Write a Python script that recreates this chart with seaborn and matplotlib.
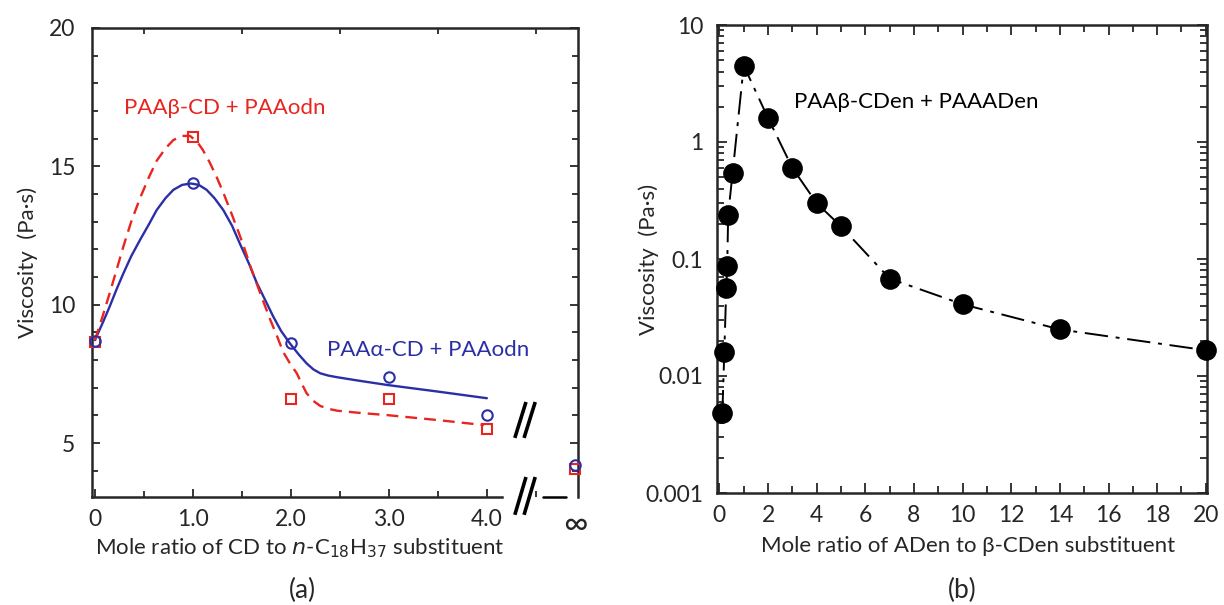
import numpy as np
import pandas as pd
import matplotlib
matplotlib.use('Agg')
import matplotlib.pyplot as plt
import seaborn as sns
from matplotlib.ticker import FixedLocator, FixedFormatter, NullFormatter

# DATA PANEL (a)
ratio_a = [0, 1.0, 2.0, 3.0, 4.0]
alpha_cd = [8.7, 14.4, 8.6, 7.4, 6.0]
beta_cd = [8.65, 16.05, 6.6, 6.6, 5.5]
inf_pos = 4.9            # position used for the "infinity" column
alpha_inf = 4.2
beta_inf = 4.05

# fitted curves
alpha_curve_x = [0, 0.08, 0.15, 0.22, 0.29, 0.37, 0.46, 0.55, 0.63, 0.72, 0.8, 0.89, 0.98, 1.06, 1.14, 1.22, 1.31,
                 1.4, 1.48, 1.57, 1.65, 1.74, 1.82, 1.9, 1.99, 2.08, 2.16, 2.23, 2.3, 2.38, 2.47, 2.7, 2.98, 3.5, 4.0]
alpha_curve_y = [8.72, 9.35, 9.93, 10.55, 11.13, 11.75, 12.34, 12.9, 13.42, 13.85, 14.15, 14.33, 14.38, 14.33, 14.15,
                 13.85, 13.42, 12.85, 12.2, 11.5, 10.8, 10.15, 9.57, 9.05, 8.6, 8.2, 7.88, 7.66, 7.52, 7.44, 7.38,
                 7.25, 7.1, 6.86, 6.62]
beta_curve_x = [0, 0.08, 0.15, 0.22, 0.29, 0.37, 0.46, 0.55, 0.63, 0.72, 0.8, 0.89, 0.97, 1.04, 1.1, 1.17, 1.24,
                1.31, 1.38, 1.45, 1.52, 1.58, 1.65, 1.72, 1.79, 1.86, 1.92, 1.99, 2.06, 2.11, 2.16, 2.23, 2.3, 2.38,
                2.47, 2.7, 2.98, 3.5, 3.97]
beta_curve_y = [8.72, 9.6, 10.41, 11.25, 12.1, 13.0, 13.85, 14.6, 15.2, 15.65, 15.95, 16.1, 16.1, 15.9, 15.6,
                15.15, 14.63, 14.05, 13.42, 12.77, 12.1, 11.45, 10.77, 10.1, 9.45, 8.85, 8.3, 7.88, 7.52, 7.15, 6.8,
                6.52, 6.34, 6.24, 6.17, 6.09, 6.01, 5.83, 5.65]

xticks_a = [0, 1.0, 2.0, 3.0, 4.0, inf_pos]
xticklabels_a = ['0', '1.0', '2.0', '3.0', '4.0', '∞']

# DATA PANEL (b)
ratio_b = [0.12, 0.2, 0.28, 0.32, 0.36, 0.54, 1.0, 2.0, 3.0, 4.0, 5.0, 7.0, 10.0, 14.0, 20.0]
visc_b = [0.0048, 0.016, 0.056, 0.087, 0.24, 0.54, 4.5, 1.6, 0.6, 0.3, 0.19, 0.068, 0.041, 0.025, 0.0166]
yticks_b = [0.001, 0.01, 0.1, 1, 10]
yticklabels_b = ['0.001', '0.01', '0.1', '1', '10']

sns.set_theme(style='ticks')
plt.rcParams['font.family'] = ['Lato', 'DejaVu Sans']

blue = '#2b2fa6'
red = '#e8251f'
TICK = 16.5
LAB = 16

fig = plt.figure(figsize=(12.24, 6.05), dpi=100)
ax1 = fig.add_axes([92/1224, 1-497/605, 486/1224, 469/605])
ax2 = fig.add_axes([717/1224, 1-493/605, 490/1224, 468/605])

# PANEL (a)
sns.lineplot(x=alpha_curve_x, y=alpha_curve_y, ax=ax1, color=blue, lw=1.7, sort=False, estimator=None)
sns.lineplot(x=beta_curve_x, y=beta_curve_y, ax=ax1, color=red, lw=1.7, sort=False, estimator=None,
             linestyle=(0, (5, 3)))
ax1.plot(ratio_a + [inf_pos], alpha_cd + [alpha_inf], 'o', ms=7.5, mfc='none', mec=blue, mew=1.5, clip_on=False, zorder=5)
ax1.plot(ratio_a + [inf_pos], beta_cd + [beta_inf], 's', ms=7.5, mfc='none', mec=red, mew=1.5, clip_on=False, zorder=4)

ax1.set_xlim(-0.03, 4.93)
ax1.set_ylim(3.05, 20)
ax1.set_xticks(xticks_a)
ax1.set_xticklabels(xticklabels_a)
ax1.xaxis.set_minor_locator(FixedLocator(np.arange(0.5, 4.6, 0.5)))
ax1.set_yticks([5, 10, 15, 20])
ax1.yaxis.set_minor_locator(FixedLocator(np.arange(4, 20, 1)))
ax1.tick_params(which='both', direction='in', top=True, right=True, width=1.3, labelsize=TICK)
ax1.tick_params(axis='y', pad=12)
ax1.tick_params(axis='x', pad=9)
ax1.tick_params(which='major', length=6)
ax1.tick_params(which='minor', length=4)
ax1.tick_params(axis='x', which='major', top=False)
for lbl in ax1.get_xticklabels():
    if lbl.get_text() == '∞':
        lbl.set_fontsize(24)
ax1.xaxis.get_major_ticks()[-1].tick1line.set_visible(False)
for s in ax1.spines.values():
    s.set_linewidth(1.8)
ax1.spines['bottom'].set_bounds(-0.03, 4.15)

# axis break marks
tr = ax1.transAxes
kw = dict(transform=tr, color='black', lw=2.6, clip_on=False, solid_capstyle='butt')
for dx in (0, 0.019):
    ax1.plot([0.870 + dx, 0.893 + dx], [0.126, 0.2026], **kw)
    ax1.plot([0.870 + dx, 0.893 + dx], [-0.038, 0.0426], **kw)
ax1.plot([0.928, 0.975], [0, 0], transform=tr, color='black', lw=1.8, clip_on=False)

ax1.text(1.32, 17.1, 'PAAβ-CD + PAAodn', color=red, fontsize=LAB, ha='center', va='center')
ax1.text(3.4, 8.36, 'PAAα-CD + PAAodn', color=blue, fontsize=LAB, ha='center', va='center')
ax1.set_ylabel('Viscosity  (Pa·s)', fontsize=LAB)
ax1.yaxis.set_label_coords((38 - 92) / 486, 0.5)
ax1.set_xlabel('Mole ratio of CD to $\\mathit{n}$-C$_{18}$H$_{37}$ substituent', fontsize=LAB)
ax1.xaxis.set_label_coords((300 - 92) / 486, -(536 - 497) / 469)
fig.text(302/1224, 1-590/605, '(a)', fontsize=19, ha='center', va='center')

# PANEL (b)
sns.lineplot(x=ratio_b, y=visc_b, ax=ax2, color='black', lw=1.4, sort=False, estimator=None,
             linestyle=(0, (12, 4, 2, 4)))
sns.scatterplot(x=ratio_b, y=visc_b, ax=ax2, color='black', s=190, edgecolor='black', zorder=5, clip_on=False)
ax2.set_yscale('log')
ax2.set_xlim(-0.1, 20.05)
ax2.set_ylim(0.001, 10)
ax2.yaxis.set_major_locator(FixedLocator(yticks_b))
ax2.yaxis.set_major_formatter(FixedFormatter(yticklabels_b))
ax2.yaxis.set_minor_formatter(NullFormatter())
ax2.set_xticks(np.arange(0, 21, 2))
ax2.xaxis.set_minor_locator(FixedLocator(np.arange(1, 20, 2)))
ax2.tick_params(which='both', direction='in', top=True, right=True, width=1.3, labelsize=TICK)
ax2.tick_params(axis='y', pad=10)
ax2.tick_params(axis='x', pad=9)
ax2.tick_params(which='major', length=7)
ax2.tick_params(which='minor', length=5)
for s in ax2.spines.values():
    s.set_linewidth(1.8)

ax2.text(8.1, 2.2, 'PAAβ-CDen + PAAADen', color='black', fontsize=LAB, ha='center', va='center')
ax2.set_ylabel('Viscosity  (Pa·s)', fontsize=LAB)
ax2.yaxis.set_label_coords((659 - 717) / 490, 0.5)
ax2.set_xlabel('Mole ratio of ADen to β-CDen substituent', fontsize=LAB)
ax2.xaxis.set_label_coords((968 - 717) / 490, -(536 - 493) / 468)
fig.text(962/1224, 1-590/605, '(b)', fontsize=19, ha='center', va='center')

fig.savefig('out.png', dpi=100)
